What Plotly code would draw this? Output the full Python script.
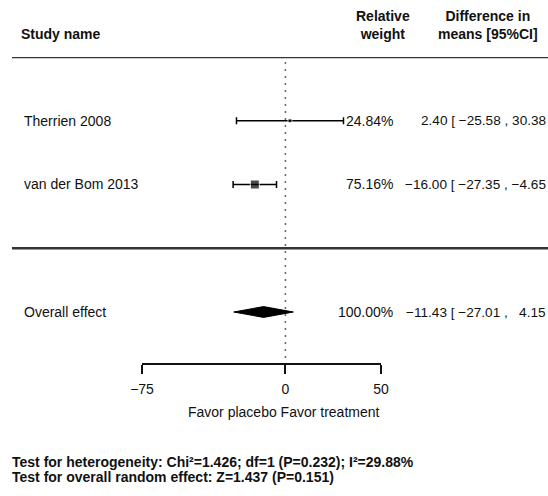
import plotly.graph_objects as go

# ---------------- data ----------------
studies = ["Therrien 2008", "van der Bom 2013"]
est = [2.40, -16.00]
ci_lo = [-25.58, -27.35]
ci_hi = [30.38, -4.65]
weights = [24.84, 75.16]

overall_label = "Overall effect"
overall_est = -11.43
overall_lo = -27.01
overall_hi = 4.15
overall_weight = 100.00

tick_vals = [-75, 0, 50]
tick_text = ["\u221275", "0", "50"]
x_title = "Favor placebo Favor treatment"
col_headers = ["Study name", "Relative<br>weight", "Difference in<br>means [95%CI]"]
footer = [
    "Test for heterogeneity: Chi\u00b2=1.426; df=1 (P=0.232); I\u00b2=29.88%",
    "Test for overall random effect: Z=1.437 (P=0.151)",
]

# ---------------- helpers ----------------
W, H = 548, 496
FONT = "Liberation Sans, Arial, sans-serif"
FS = 14
FIG_SP = "\u2007"


def num(v):
    return ("\u2212" if v < 0 else "") + f"{abs(v):.2f}"


def pad_col(vals):
    s = [num(v) for v in vals]
    m = max(len(t) for t in s)
    return [FIG_SP * (m - len(t)) + t for t in s]


def px(p):  # window pixel x -> paper
    return p / W


def py(p):  # window pixel y -> paper
    return 1 - p / H


rows = [1, 2]
overall_row = 4
marker_sizes = [4, 9]

fig = go.Figure()

# study estimates with CI via error bars
fig.add_trace(go.Scatter(
    x=est, y=rows, mode="markers",
    marker=dict(symbol="square", size=marker_sizes, color="black"),
    error_x=dict(type="data", symmetric=False,
                 array=[h - e for h, e in zip(ci_hi, est)],
                 arrayminus=[e - l for e, l in zip(est, ci_lo)],
                 color="black", thickness=1.5, width=3.5),
    showlegend=False, hoverinfo="skip",
))

# overall diamond
dh = 0.085
fig.add_trace(go.Scatter(
    x=[overall_lo, overall_est, overall_hi, overall_est, overall_lo],
    y=[overall_row, overall_row - dh, overall_row, overall_row + dh, overall_row],
    mode="lines", fill="toself", fillcolor="black",
    line=dict(color="black", width=1), showlegend=False, hoverinfo="skip",
))

shapes = []
# reference dotted line at 0
shapes.append(dict(type="line", xref="x", yref="y", x0=0, x1=0, y0=0.08, y1=4.8,
                   line=dict(color="#666", width=1.5, dash="2px,5px")))
# horizontal separators
for yy in [0, 3]:
    shapes.append(dict(type="line", xref="paper", yref="y", x0=px(12), x1=1, y0=yy, y1=yy,
                       line=dict(color="#333", width=2.5)))
fig.update_layout(shapes=shapes)

ann = []
# headers
ann.append(dict(text=f"<b>{col_headers[0]}</b>", x=px(19), y=py(34), xanchor="left", yanchor="middle"))
ann.append(dict(text=f"<b>{col_headers[1]}</b>", x=px(383), y=py(25), xanchor="center", yanchor="middle"))
ann.append(dict(text=f"<b>{col_headers[2]}</b>", x=px(488), y=py(25), xanchor="center", yanchor="middle"))

# rows
all_names = studies + [overall_label]
all_rows = rows + [overall_row]
all_w = weights + [overall_weight]
all_e = est + [overall_est]
all_l = ci_lo + [overall_lo]
all_h = ci_hi + [overall_hi]
e_txt = [num(v) for v in all_e]
l_txt = pad_col(all_l)
h_txt = pad_col(all_h)
for n, r, w, et, lt, ht in zip(all_names, all_rows, all_w, e_txt, l_txt, h_txt):
    ann.append(dict(text=n, x=px(22), y=r, yref="y", xanchor="left", yanchor="middle"))
    ann.append(dict(text=f"{w:.2f}%", x=px(395), y=r, yref="y", xanchor="right", yanchor="middle"))
    # the reference image is cut at its right edge, just after the upper limit
    ann.append(dict(text=f"{et} [ {lt} , {ht}", x=1, y=r, yref="y", xanchor="right", yanchor="middle",
                    font=dict(size=13.6)))

ann.append(dict(text=x_title, x=px(284), y=py(412), xanchor="center", yanchor="middle"))
ann.append(dict(text=f"<b>{footer[0]}</b>", x=px(10), y=py(462), xanchor="left", yanchor="middle"))
ann.append(dict(text=f"<b>{footer[1]}</b>", x=px(10), y=py(477), xanchor="left", yanchor="middle"))

for a in ann:
    a.setdefault("xref", "paper")
    a.setdefault("yref", "paper")
    a["showarrow"] = False
    a.setdefault("font", dict(size=FS))

fig.update_layout(
    annotations=ann,
    width=W, height=H,
    margin=dict(l=0, r=0, t=0, b=0, autoexpand=False),
    paper_bgcolor="white", plot_bgcolor="white",
    font=dict(family=FONT, size=FS, color="#111"),
    xaxis=dict(domain=[px(142), px(381)], range=[-75, 50],
               tickvals=tick_vals, ticktext=tick_text,
               showline=True, linecolor="#111", linewidth=2,
               ticks="outside", ticklen=9, tickwidth=2, tickcolor="#111",
               ticklabelstandoff=3,
               showgrid=False, zeroline=False, tickfont=dict(size=FS)),
    yaxis=dict(domain=[py(363), py(57)], range=[4.8, 0], visible=False,
               showgrid=False, zeroline=False),
)

# remove the browser's default page margin so the figure fills the window exactly
fig.write_html(
    "out.html",
    config={"displayModeBar": False},
    post_script="document.body.style.margin='0px';document.body.style.overflow='hidden';",
)
